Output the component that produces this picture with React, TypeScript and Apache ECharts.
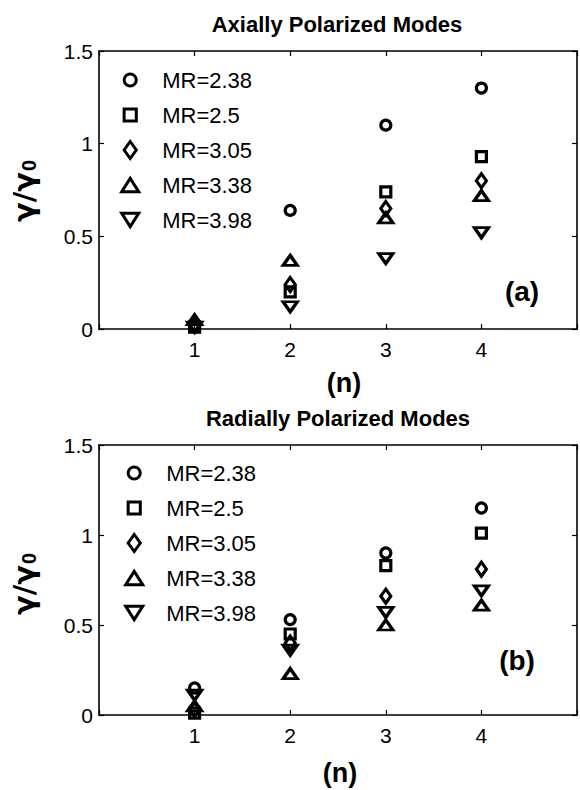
import React, { useEffect, useRef } from 'react';
import * as echarts from 'echarts';

// ---- data ----
const nValues = [1, 2, 3, 4];
const seriesNames = ['MR=2.38', 'MR=2.5', 'MR=3.05', 'MR=3.38', 'MR=3.98'];

// (a) Axially polarized modes
const axialMR238 = [0.01, 0.64, 1.1, 1.3];
const axialMR25 = [0.01, 0.2, 0.74, 0.93];
const axialMR305 = [0.02, 0.24, 0.65, 0.8];
const axialMR338 = [0.05, 0.37, 0.6, 0.72];
const axialMR398 = [0.01, 0.12, 0.38, 0.52];

// (b) Radially polarized modes
const radialMR238 = [0.15, 0.53, 0.9, 1.15];
const radialMR25 = [0.01, 0.45, 0.83, 1.01];
const radialMR305 = [0.03, 0.4, 0.66, 0.81];
const radialMR338 = [0.05, 0.23, 0.5, 0.61];
const radialMR398 = [0.11, 0.36, 0.57, 0.69];

const xTicks = [1, 2, 3, 4];
const yTicks = [0, 0.5, 1, 1.5];

const FONT = 'Liberation Sans, Arial, Helvetica, sans-serif';
const GREEK = 'DejaVu Sans, Liberation Sans, sans-serif';

// marker shapes for the plotted points
const SYM_SQUARE = 'path://M0,0L10,0L10,10L0,10Z';
const SYM_DIAMOND = 'path://M5,0L10,7L5,14L0,7Z';
const SYM_UP = 'path://M7,0L14,11L0,11Z';
const SYM_DOWN = 'path://M0,0L14,0L7,11Z';

const symbols = ['circle', SYM_SQUARE, SYM_DIAMOND, SYM_UP, SYM_DOWN];
const symbolSizes: any[] = [10, 10, [10, 14], [14, 10], [14, 10]];

// legend icons, all inside a common 16x14 box so they keep their relative sizes
const BOX = 'M0,0M16,14';
const legendIcons = [
  `path://${BOX}M3,7C3,4.24 5.24,2 8,2C10.76,2 13,4.24 13,7C13,9.76 10.76,12 8,12C5.24,12 3,9.76 3,7Z`,
  `path://${BOX}M3,2L13,2L13,12L3,12Z`,
  `path://${BOX}M8,0L13,7L8,14L3,7Z`,
  `path://${BOX}M8,1.5L15,12.5L1,12.5Z`,
  `path://${BOX}M1,1.5L15,1.5L8,12.5Z`,
];

const markerStyle = { color: 'none', borderColor: '#000', borderWidth: 3.2, opacity: 1 };

function makeXAxes(gridIndex: number) {
  const base = {
    gridIndex,
    type: 'value',
    min: 0,
    max: 5,
    interval: 1,
    splitLine: { show: false },
    axisLine: { show: true, onZero: false, lineStyle: { color: '#000', width: 1.6 } },
    axisTick: { show: true, inside: true, length: 5, lineStyle: { color: '#000', width: 1.2 } },
  };
  return [
    {
      ...base,
      position: 'bottom',
      axisLabel: {
        show: true,
        color: '#000',
        fontSize: 21,
        fontFamily: FONT,
        margin: 10,
        formatter: (v: number) => (xTicks.indexOf(v) >= 0 ? String(v) : ''),
      },
    },
    { ...base, position: 'top', axisLabel: { show: false } },
  ];
}

function makeYAxes(gridIndex: number) {
  const base = {
    gridIndex,
    type: 'value',
    min: 0,
    max: 1.5,
    interval: 0.5,
    splitLine: { show: false },
    axisLine: { show: true, onZero: false, lineStyle: { color: '#000', width: 1.6 } },
    axisTick: { show: true, inside: true, length: 5, lineStyle: { color: '#000', width: 1.2 } },
  };
  return [
    {
      ...base,
      position: 'left',
      axisLabel: {
        show: true,
        color: '#000',
        fontSize: 21,
        fontFamily: FONT,
        margin: 6,
        formatter: (v: number) => (yTicks.indexOf(v) >= 0 ? String(v) : ''),
      },
    },
    { ...base, position: 'right', axisLabel: { show: false } },
  ];
}

function makeSeries(gridIdx: number, arrays: number[][]) {
  return arrays.map((arr, i) => ({
    name: seriesNames[i],
    type: 'scatter',
    xAxisIndex: gridIdx * 2,
    yAxisIndex: gridIdx * 2,
    symbol: symbols[i],
    symbolSize: symbolSizes[i],
    symbolKeepAspect: false,
    itemStyle: markerStyle,
    data: nValues.map((n, k) => [n, arr[k]]),
    z: 5 - i,
  }));
}

function makeLegend(left: number, top: number) {
  return {
    orient: 'vertical',
    left,
    top,
    itemWidth: 54,
    itemHeight: 17,
    itemGap: 13,
    selectedMode: false,
    data: seriesNames.map((name, i) => ({
      name,
      icon: legendIcons[i],
      itemStyle: { color: 'none', borderColor: '#000', borderWidth: 3, opacity: 1 },
    })),
    textStyle: { color: '#000', fontSize: 22, fontFamily: FONT, lineHeight: 22 },
  };
}

function yName(cx: number, cy: number) {
  return {
    type: 'text',
    x: cx,
    y: cy,
    rotation: Math.PI / 2,
    style: {
      text: '{g|γ/γ}{s|0}',
      align: 'center',
      verticalAlign: 'middle',
      fill: '#000',
      rich: {
        g: { fontSize: 29, fontFamily: GREEK, fontWeight: 'bold', fill: '#000', lineHeight: 30, verticalAlign: 'top' },
        s: { fontSize: 20, fontFamily: FONT, fontWeight: 'bold', fill: '#000', lineHeight: 20, verticalAlign: 'bottom', padding: [14, 0, 0, 1] },
      },
    },
  };
}

export default function App() {
  const ref = useRef<HTMLDivElement>(null);
  useEffect(() => {
    if (!ref.current) return;
    const chart = echarts.init(ref.current, null, { renderer: 'svg' });
    const option: any = {
      animation: false,
      backgroundColor: '#fff',
      grid: [
        { left: 99, top: 51, width: 480, height: 278 },
        { left: 99, top: 445, width: 480, height: 270 },
      ],
      xAxis: [...makeXAxes(0), ...makeXAxes(1)],
      yAxis: [...makeYAxes(0), ...makeYAxes(1)],
      legend: [makeLegend(113, 64), makeLegend(117, 457)],
      series: [
        ...makeSeries(0, [axialMR238, axialMR25, axialMR305, axialMR338, axialMR398]),
        ...makeSeries(1, [radialMR238, radialMR25, radialMR305, radialMR338, radialMR398]),
      ],
      graphic: [
        { type: 'text', x: 337, y: 24, style: { text: 'Axially Polarized Modes', font: `bold 22px ${FONT}`, fill: '#000', align: 'center', verticalAlign: 'middle' } },
        { type: 'text', x: 338, y: 418, style: { text: 'Radially Polarized Modes', font: `bold 22px ${FONT}`, fill: '#000', align: 'center', verticalAlign: 'middle' } },
        { type: 'text', x: 344, y: 383, style: { text: '(n)', font: `bold 27px ${FONT}`, fill: '#000', align: 'center', verticalAlign: 'middle' } },
        { type: 'text', x: 340, y: 773, style: { text: '(n)', font: `bold 27px ${FONT}`, fill: '#000', align: 'center', verticalAlign: 'middle' } },
        { type: 'text', x: 522, y: 291, style: { text: '(a)', font: `bold 28px ${FONT}`, fill: '#000', align: 'center', verticalAlign: 'middle' } },
        { type: 'text', x: 517, y: 660, style: { text: '(b)', font: `bold 28px ${FONT}`, fill: '#000', align: 'center', verticalAlign: 'middle' } },
        yName(24, 191),
        yName(24, 584),
      ],
    };
    chart.setOption(option);
    return () => chart.dispose();
  }, []);
  return (
    <div
      ref={ref}
      style={{ position: 'absolute', left: 0, top: 0, width: 580, height: 790, background: '#fff' }}
    />
  );
}
